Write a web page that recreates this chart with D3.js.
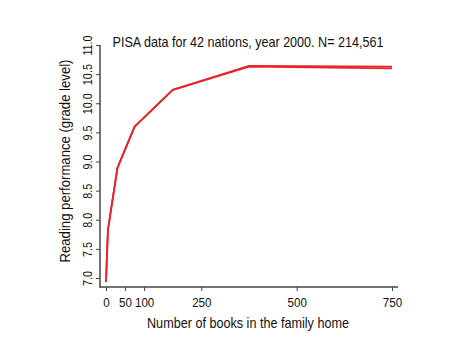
<!DOCTYPE html>
<html><head><meta charset="utf-8">
<script src="https://cdn.jsdelivr.net/npm/d3@7"></script>
<style>body{margin:0;background:#fff;} text{font-family:"Liberation Sans",Arial,sans-serif;fill:#111;}</style>
</head><body><svg id="c" width="462" height="361"></svg>
<script>
const books = [0, 5, 30, 75, 175, 375, 750];
const readingUpper = [6.93, 7.82, 8.89, 9.6, 10.23, 10.64, 10.63];
const readingLower = [6.93, 7.82, 8.89, 9.6, 10.23, 10.63, 10.60];
const xTicks = [0, 50, 100, 250, 500, 750];
const yTicks = [7.0, 7.5, 8.0, 8.5, 9.0, 9.5, 10.0, 10.5, 11.0];
const title = "PISA data for 42 nations, year 2000. N= 214,561";

const svg = d3.select("#c");
const x = d3.scaleLinear().domain([0, 750]).range([106, 392]);
const y = d3.scaleLinear().domain([7, 11]).range([278, 45]);
const axisColor = "#444";

// x axis
const gx = svg.append("g").attr("transform", "translate(0,287)")
  .call(d3.axisBottom(x).tickValues(xTicks).tickSize(4).tickFormat(d3.format("d")));
gx.select(".domain").attr("d", "M100,0H398").attr("stroke", axisColor).attr("stroke-width", 1.5);
gx.selectAll(".tick line").attr("stroke", axisColor);
gx.selectAll(".tick text").attr("font-size", 13.5).attr("dy", "0.95em")
  .attr("transform", "scale(0.86,1)").style("font-family","Liberation Sans");

// y axis
const gy = svg.append("g").attr("transform", "translate(100,0)")
  .call(d3.axisLeft(y).tickValues(yTicks).tickSize(4).tickFormat(d3.format(".1f")));
gy.select(".domain").attr("d", "M0,45V288").attr("stroke", axisColor).attr("stroke-width", 1.5);
gy.selectAll(".tick line").attr("stroke", axisColor);
gy.selectAll(".tick text").attr("font-size", 13.5).attr("x", 0).attr("dy", 0)
  .attr("text-anchor", "middle")
  .attr("transform", "translate(-8,0) rotate(-90) scale(0.8,1)")
  .style("font-family","Liberation Sans");

// lines
const line = d3.line().x((d, i) => x(books[i])).y(d => y(d));
[readingLower, readingUpper].forEach(s => {
  svg.append("path").datum(s).attr("d", line).attr("fill", "none")
    .attr("stroke", "#ea2229").attr("stroke-width", 1.8).attr("stroke-linejoin", "round");
});

// titles
svg.append("text").attr("x", 248).attr("y", 47).attr("text-anchor", "middle")
  .attr("font-size", 14.5).attr("textLength", 271).attr("lengthAdjust", "spacingAndGlyphs").text(title);
svg.append("text").attr("x", 248).attr("y", 328).attr("text-anchor", "middle")
  .attr("font-size", 14.5).attr("textLength", 202).attr("lengthAdjust", "spacingAndGlyphs").text("Number of books in the family home");
svg.append("text").attr("transform", "translate(70,161) rotate(-90)").attr("text-anchor", "middle")
  .attr("font-size", 14.5).attr("textLength", 203).attr("lengthAdjust", "spacingAndGlyphs").text("Reading performance (grade level)");
</script></body></html>
